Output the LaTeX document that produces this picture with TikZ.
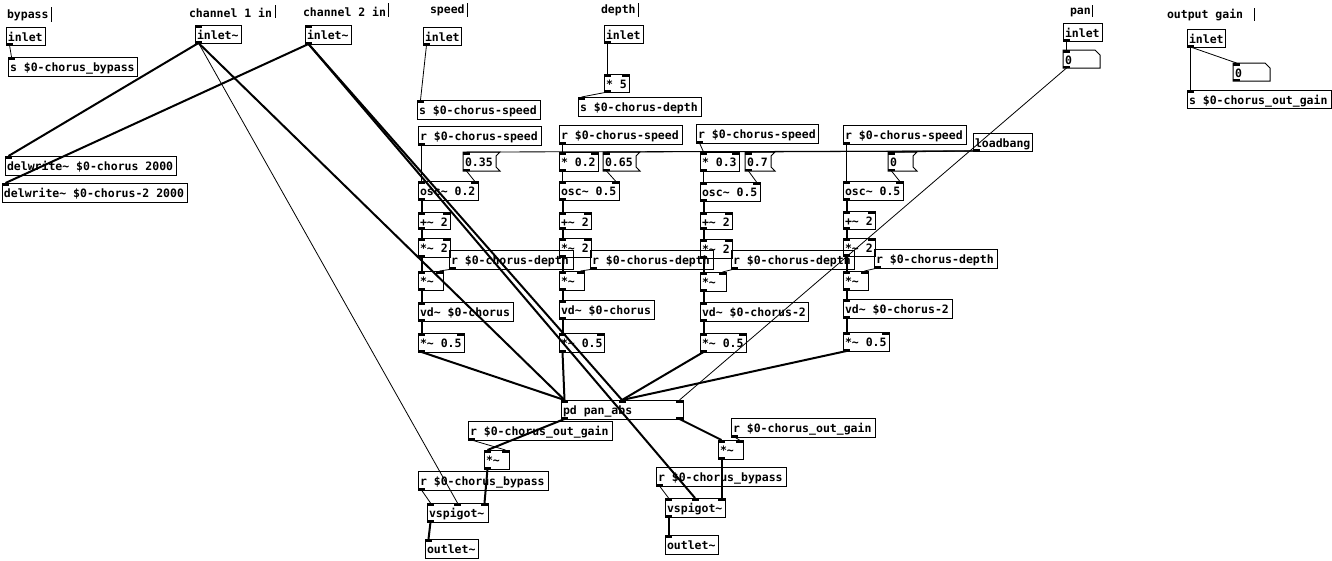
\documentclass[tikz,border=0pt]{standalone}
\usepackage{fontspec}
\newfontfamily\pdfont{DejaVu Sans Mono}
\usetikzlibrary{calc}
\newcommand\tl{\textasciitilde}

\tikzset{
  box/.style={draw=black, line width=1pt, inner sep=0pt, outer sep=0pt},
  lbl/.style={anchor=base west, inner sep=0pt, outer sep=0pt,
              font=\pdfont\bfseries\fontsize{11.5}{13}\selectfont},
  sig/.style={line width=2pt},
  ctl/.style={line width=0.8pt},
  port/.style={fill=black},
}

% inlets (top) and outlets (bottom) of a box, with named anchor points
\newcommand\pdports[7]{%
  \ifnum#6>0
    \foreach \k in {1,...,#6}{%
      \pgfmathsetmacro\px{#2+(#4-#2-7)*(\k-1)/max(#6-1,1)}%
      \fill[port] (\px,#3) rectangle ++(7,2.5);
      \coordinate (#1-i\k) at (\px+3.5,#3);
    }%
  \fi
  \ifnum#7>0
    \foreach \k in {1,...,#7}{%
      \pgfmathsetmacro\px{#2+(#4-#2-7)*(\k-1)/max(#7-1,1)}%
      \fill[port] (\px,#5) rectangle ++(7,-2.5);
      \coordinate (#1-o\k) at (\px+3.5,#5);
    }%
  \fi
}
% object box: name x1 y1 x2 y2 text inlets outlets
\newcommand\pdobj[8]{%
  \node[box, minimum width={#4-#2}, minimum height={#5-#3}, anchor=north west] (#1) at (#2,#3) {};
  \node[lbl] (#1-t) at (#2+2,#3+14) {#6};
  \pdports{#1}{#2}{#3}{#4}{#5}{#7}{#8}%
}
% message box with flag edge
\newcommand\pdmsg[6]{%
  \node[inner sep=0pt, outer sep=0pt, minimum width={#4-#2}, minimum height={#5-#3}, anchor=north west] (#1) at (#2,#3) {};
  \draw[line width=1pt] (#2,#3) -- (#4,#3) -- (#4-4,#3+4) -- (#4-4,#5-4) -- (#4,#5) -- (#2,#5) -- cycle;
  \node[lbl] (#1-t) at (#2+2,#3+14) {#6};
  \pdports{#1}{#2}{#3}{#4}{#5}{1}{1}%
}
% number atom with cut corner
\newcommand\pdatom[6]{%
  \node[inner sep=0pt, outer sep=0pt, minimum width={#4-#2}, minimum height={#5-#3}, anchor=north west] (#1) at (#2,#3) {};
  \draw[line width=1pt] (#2,#3) -- (#4-5,#3) -- (#4,#3+5) -- (#4,#5) -- (#2,#5) -- cycle;
  \node[lbl] (#1-t) at (#2+2,#3+14) {#6};
  \pdports{#1}{#2}{#3}{#4}{#5}{1}{1}%
}
% comment with its edit bar
\newcommand\pdcom[7]{%
  \node[lbl] (#1) at (#2,#3) {#4};
  \draw[line width=1pt] (#5,#6) -- (#5,#7);
}
\newcommand\cs[2]{\draw[sig] (#1) -- (#2);}
\newcommand\cc[2]{\draw[ctl] (#1) -- (#2);}

\begin{document}
\begin{tikzpicture}[x=1pt,y=-1pt]
\useasboundingbox (0,0) rectangle (1332,560);
\fill[white] (0,0) rectangle (1332,560);

% comments
\pdcom{cBy}{7}{18}{bypass}{51.5}{7}{22}
\pdcom{cChA}{189}{17}{channel 1 in}{275}{5}{18}
\pdcom{cChB}{303}{16}{channel 2 in}{388}{3}{17}
\pdcom{cSp}{430}{13.5}{speed}{467.5}{3}{17}
\pdcom{cDp}{601}{13.5}{depth}{638.5}{3}{17}
\pdcom{cPan}{1070}{14}{pan}{1092.5}{5}{17}
\pdcom{cOg}{1167}{18}{output gain}{1254}{8}{21}

% inputs
\pdobj{inBy}{6}{27}{45}{45}{inlet}{0}{1}
\pdobj{sBy}{8}{57}{137}{76}{s \$0-chorus\_bypass}{1}{0}
\pdobj{inA}{195}{25}{241}{43}{inlet\tl}{1}{1}
\pdobj{inB}{305}{25}{351}{44}{inlet\tl}{1}{1}
\pdobj{dwA}{5}{156}{176}{175}{delwrite\tl{} \$0-chorus 2000}{1}{0}
\pdobj{dwB}{2}{183}{187}{202}{delwrite\tl{} \$0-chorus-2 2000}{1}{0}
\pdobj{inSp}{423}{27}{461}{45}{inlet}{0}{1}
\pdobj{sSp}{417}{100}{540}{119}{s \$0-chorus-speed}{1}{0}
\pdobj{inDp}{604}{25}{643}{43}{inlet}{0}{1}
\pdobj{mFive}{604}{74}{629}{92}{* 5}{2}{1}
\pdobj{sDp}{578}{97}{701}{116}{s \$0-chorus-depth}{1}{0}
\pdobj{inPan}{1063}{23}{1102}{41}{inlet}{0}{1}
\pdatom{aPan}{1063}{50}{1100}{68}{0}
\pdobj{inG}{1187}{29}{1225}{47}{inlet}{0}{1}
\pdatom{aG}{1233}{63}{1270}{81}{0}
\pdobj{sG}{1187}{90}{1331}{108}{s \$0-chorus\_out\_gain}{1}{0}

% column 1
\pdobj{rSa}{418}{126}{541}{145}{r \$0-chorus-speed}{0}{1}
\pdmsg{mQa}{463}{152}{500}{171}{0.35}
\pdobj{oscA}{418}{181}{478}{200}{osc\tl{} 0.2}{2}{1}
\pdobj{addA}{418}{212}{450}{229}{+\tl{} 2}{2}{1}
\pdobj{mulA}{418}{238}{450}{257}{*\tl{} 2}{2}{1}
\pdobj{rDa}{449}{250}{573}{269}{r \$0-chorus-depth}{0}{1}
\pdobj{vmA}{418}{271}{443}{290}{*\tl}{2}{1}
\pdobj{vdA}{418}{302}{513}{321}{vd\tl{} \$0-chorus}{1}{1}
\pdobj{hA}{418}{333}{464}{352}{*\tl{} 0.5}{2}{1}

% column 2
\pdobj{rSb}{559}{125}{682}{144}{r \$0-chorus-speed}{0}{1}
\pdobj{kB}{559}{152}{598}{171}{* 0.2}{2}{1}
\pdmsg{mQb}{603}{152}{640}{171}{0.65}
\pdobj{oscB}{559}{181}{619}{200}{osc\tl{} 0.5}{2}{1}
\pdobj{addB}{559}{212}{591}{229}{+\tl{} 2}{2}{1}
\pdobj{mulB}{559}{238}{591}{257}{*\tl{} 2}{2}{1}
\pdobj{rDb}{590}{250}{713}{269}{r \$0-chorus-depth}{0}{1}
\pdobj{vmB}{559}{271}{584}{290}{*\tl}{2}{1}
\pdobj{vdB}{559}{300}{654}{319}{vd\tl{} \$0-chorus}{1}{1}
\pdobj{hB}{559}{333}{604}{352}{*\tl{} 0.5}{2}{1}

% column 3
\pdobj{rSc}{696}{124}{818}{143}{r \$0-chorus-speed}{0}{1}
\pdobj{kC}{700}{152}{739}{171}{* 0.3}{2}{1}
\pdmsg{mQc}{745}{152}{775}{171}{0.7}
\pdobj{oscC}{700}{182}{760}{201}{osc\tl{} 0.5}{2}{1}
\pdobj{addC}{700}{212}{732}{229}{+\tl{} 2}{2}{1}
\pdobj{mulC}{700}{239}{732}{258}{*\tl{} 2}{2}{1}
\pdobj{rDc}{731}{250}{854}{269}{r \$0-chorus-depth}{0}{1}
\pdobj{vmC}{700}{272}{726}{291}{*\tl}{2}{1}
\pdobj{vdC}{700}{302}{808}{321}{vd\tl{} \$0-chorus-2}{1}{1}
\pdobj{hC}{700}{333}{746}{352}{*\tl{} 0.5}{2}{1}

% column 4
\pdobj{rSd}{843}{125}{966}{144}{r \$0-chorus-speed}{0}{1}
\pdobj{lb}{973}{133}{1032}{151}{loadbang}{0}{1}
\pdmsg{mQd}{888}{152}{917}{171}{0}
\pdobj{oscD}{843}{181}{903}{200}{osc\tl{} 0.5}{2}{1}
\pdobj{addD}{843}{211}{875}{229}{+\tl{} 2}{2}{1}
\pdobj{mulD}{843}{238}{875}{256}{*\tl{} 2}{2}{1}
\pdobj{rDd}{874}{249}{997}{268}{r \$0-chorus-depth}{0}{1}
\pdobj{vmD}{843}{271}{868}{290}{*\tl}{2}{1}
\pdobj{vdD}{843}{299}{952}{318}{vd\tl{} \$0-chorus-2}{1}{1}
\pdobj{hD}{843}{332}{889}{351}{*\tl{} 0.5}{2}{1}

% output section
\pdobj{pan}{561}{400}{683}{419}{pd pan\_abs}{3}{2}
\pdobj{rGa}{468}{421}{612}{440}{r \$0-chorus\_out\_gain}{0}{1}
\pdobj{gA}{484}{450}{509}{469}{*\tl}{2}{1}
\pdobj{rBa}{418}{471}{548}{490}{r \$0-chorus\_bypass}{0}{1}
\pdobj{vsA}{427}{503}{488}{522}{vspigot\tl}{3}{1}
\pdobj{outA}{425}{539}{478}{558}{outlet\tl}{1}{0}
\pdobj{rGb}{731}{418}{875}{437}{r \$0-chorus\_out\_gain}{0}{1}
\pdobj{gB}{718}{440}{743}{459}{*\tl}{2}{1}
\pdobj{rBb}{656}{467}{786}{486}{r \$0-chorus\_bypass}{0}{1}
\pdobj{vsB}{665}{498}{725}{517}{vspigot\tl}{3}{1}
\pdobj{outB}{665}{535}{718}{554}{outlet\tl}{1}{0}

% connections: inputs
\cc{inBy-o1}{sBy-i1}
\cs{inA-o1}{dwA-i1}
\cs{inB-o1}{dwB-i1}
\cc{inA-o1}{vsA-i2}
\cs{inA-o1}{pan-i1}
\cs{inB-o1}{pan-i2}
\cs{inB-o1}{vsB-i2}
\cc{inSp-o1}{sSp-i1}
\cc{inDp-o1}{mFive-i1}
\cc{mFive-o1}{sDp-i1}
\cc{inPan-o1}{aPan-i1}
\cc{aPan-o1}{pan-i3}
\cc{inG-o1}{sG-i1}
\cc{inG-o1}{aG-i1}

% loadbang to initial phases
\cc{lb-o1}{mQa-i1}
\cc{lb-o1}{mQb-i1}
\cc{lb-o1}{mQc-i1}
\cc{lb-o1}{mQd-i1}

% column 1
\cc{rSa-o1}{oscA-i1}
\cc{mQa-o1}{oscA-i2}
\cs{oscA-o1}{addA-i1}
\cs{addA-o1}{mulA-i1}
\cs{mulA-o1}{vmA-i1}
\cc{rDa-o1}{vmA-i2}
\cs{vmA-o1}{vdA-i1}
\cs{vdA-o1}{hA-i1}
\cs{hA-o1}{pan-i1}

% column 2
\cc{rSb-o1}{kB-i1}
\cc{kB-o1}{oscB-i1}
\cc{mQb-o1}{oscB-i2}
\cs{oscB-o1}{addB-i1}
\cs{addB-o1}{mulB-i1}
\cs{mulB-o1}{vmB-i1}
\cc{rDb-o1}{vmB-i2}
\cs{vmB-o1}{vdB-i1}
\cs{vdB-o1}{hB-i1}
\cs{hB-o1}{pan-i1}

% column 3
\cc{rSc-o1}{kC-i1}
\cc{kC-o1}{oscC-i1}
\cc{mQc-o1}{oscC-i2}
\cs{oscC-o1}{addC-i1}
\cs{addC-o1}{mulC-i1}
\cs{mulC-o1}{vmC-i1}
\cc{rDc-o1}{vmC-i2}
\cs{vmC-o1}{vdC-i1}
\cs{vdC-o1}{hC-i1}
\cs{hC-o1}{pan-i2}

% column 4
\cc{rSd-o1}{oscD-i1}
\cc{mQd-o1}{oscD-i2}
\cs{oscD-o1}{addD-i1}
\cs{addD-o1}{mulD-i1}
\cs{mulD-o1}{vmD-i1}
\cc{rDd-o1}{vmD-i2}
\cs{vmD-o1}{vdD-i1}
\cs{vdD-o1}{hD-i1}
\cs{hD-o1}{pan-i2}

% gain, bypass and outlets
\cs{pan-o1}{gA-i1}
\cc{rGa-o1}{gA-i2}
\cs{gA-o1}{vsA-i3}
\cc{rBa-o1}{vsA-i1}
\cs{vsA-o1}{outA-i1}
\cs{pan-o2}{gB-i1}
\cc{rGb-o1}{gB-i2}
\cs{gB-o1}{vsB-i3}
\cc{rBb-o1}{vsB-i1}
\cs{vsB-o1}{outB-i1}
\end{tikzpicture}
\end{document}
